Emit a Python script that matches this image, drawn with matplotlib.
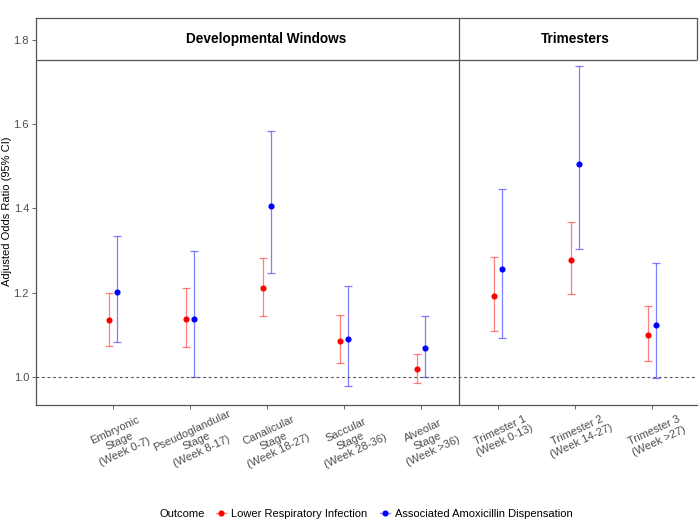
import numpy as np
import matplotlib
matplotlib.use('Agg')
import matplotlib.pyplot as plt
from matplotlib.lines import Line2D
from matplotlib.offsetbox import HPacker

plt.rcParams['font.family'] = ['Liberation Sans', 'DejaVu Sans']

labels = ['Embryonic\nStage\n(Week 0-7)', 'Pseudoglandular\nStage\n(Week 8-17)',
          'Canalicular\nStage\n(Week 18-27)', 'Saccular\nStage\n(Week 28-36)',
          'Alveolar\nStage\n(Week >36)', 'Trimester 1\n(Week 0-13)',
          'Trimester 2\n(Week 14-27)', 'Trimester 3\n(Week >27)']

# Lower Respiratory Infection
lri_or = [1.135, 1.138, 1.210, 1.085, 1.018, 1.193, 1.277, 1.100]
lri_lo = [1.073, 1.070, 1.145, 1.032, 0.985, 1.108, 1.196, 1.038]
lri_hi = [1.200, 1.212, 1.281, 1.146, 1.053, 1.284, 1.367, 1.168]

# Associated Amoxicillin Dispensation
amx_or = [1.202, 1.138, 1.405, 1.089, 1.068, 1.256, 1.505, 1.124]
amx_lo = [1.083, 1.000, 1.247, 0.979, 1.000, 1.092, 1.304, 0.998]
amx_hi = [1.335, 1.298, 1.584, 1.216, 1.145, 1.446, 1.738, 1.270]

facets = ['Developmental Windows', 'Trimesters']

fig = plt.figure(figsize=(7, 5.21), dpi=100)
ax = fig.add_axes([0.0514, 0.2226, 0.9436, 0.7429])

x = np.arange(len(labels))
red = '#FF0000'
blue = '#0000FF'
dx = 0.05

lri = np.array(lri_or)
amx = np.array(amx_or)
ax.errorbar(x - dx, lri, yerr=[lri - np.array(lri_lo), np.array(lri_hi) - lri],
            fmt='none', ecolor=red, alpha=0.5, elinewidth=0.9, capsize=2.6, capthick=0.9)
ax.errorbar(x + dx, amx, yerr=[amx - np.array(amx_lo), np.array(amx_hi) - amx],
            fmt='none', ecolor=blue, alpha=0.5, elinewidth=0.9, capsize=2.6, capthick=0.9)
ax.plot(x - dx, lri, 'o', color=red, ms=3.4, zorder=3)
ax.plot(x + dx, amx, 'o', color=blue, ms=3.4, zorder=3)

ax.axhline(1.0, color='#555555', ls=(0, (2.5, 2.5)), lw=0.8)

xmax = 7.58
ax.set_xlim(-1.0, xmax)
ax.set_ylim(0.933, 1.852)
strip_lo = 1.752

gray = '#555555'
ax.axhline(strip_lo, color=gray, lw=0.9)
ax.axvline(4.5, color=gray, lw=0.9)
ax.vlines(xmax, strip_lo, 1.852, color=gray, lw=0.9, clip_on=False)
ax.text(1.99, 1.802, facets[0], ha='center', va='center', fontsize=9.8, fontweight='bold')
ax.text(6.0, 1.802, facets[1], ha='center', va='center', fontsize=9.8, fontweight='bold')

for s in ['left', 'bottom', 'top']:
    ax.spines[s].set_color(gray)
    ax.spines[s].set_linewidth(0.9)
ax.spines['right'].set_visible(False)

ax.set_yticks([1.0, 1.2, 1.4, 1.6, 1.8])
ax.set_yticklabels(['1.0', '1.2', '1.4', '1.6', '1.8'])
ax.set_xticks(x)
ax.set_xticklabels(labels, rotation=25, ha='center', va='top', ma='center', rotation_mode='anchor')
ax.tick_params(colors='#4D4D4D', labelsize=8, length=3, width=0.6)
ax.tick_params(axis='y', pad=2)
ax.tick_params(axis='x', pad=12)
ax.set_ylabel('Adjusted Odds Ratio (95% CI)', fontsize=8)
ax.yaxis.set_label_coords(-0.037, 0.5)

handles = [Line2D([0], [0], color=(1, 0, 0, 0.5), marker='o', ms=3.4, lw=0.9,
                  markerfacecolor=red, markeredgecolor=red),
           Line2D([0], [0], color=(0, 0, 1, 0.5), marker='o', ms=3.4, lw=0.9,
                  markerfacecolor=blue, markeredgecolor=blue)]
leg = fig.legend(handles, ['Lower Respiratory Infection', 'Associated Amoxicillin Dispensation'],
                 title='Outcome', loc='lower center', bbox_to_anchor=(0.523, -0.015), ncol=2,
                 frameon=False, fontsize=8, title_fontsize=8, handlelength=0.9,
                 handletextpad=0.5, columnspacing=1.1)
# put title inline with entries
title_box = leg._legend_title_box
handle_box = leg._legend_handle_box
leg._legend_box._children = [HPacker(pad=0, sep=8, children=[title_box, handle_box], align='center')]

fig.savefig('out.png', dpi=100)
